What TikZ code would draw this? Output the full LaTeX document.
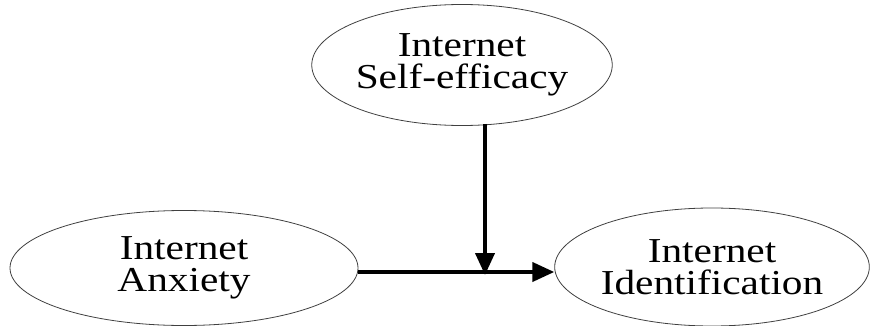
\documentclass[tikz,border=0pt]{standalone}
\usepackage{fontspec}
\setmainfont{Liberation Serif}[FakeStretch=1.18]
\usetikzlibrary{shapes.geometric,arrows.meta}
\begin{document}
\begin{tikzpicture}[x=1pt,y=-1pt,
  oval/.style={ellipse,draw=black!75,line width=0.8pt,inner sep=0pt,align=center,
    font=\fontsize{35}{32}\selectfont},
  conn/.style={line width=4pt,-{Triangle[length=22pt,width=19pt]}}]
\useasboundingbox (0,0) rectangle (872,326);
\node[oval,minimum width=270pt,minimum height=121pt] (S) at (462,65) {Internet\\Self-efficacy};
\node[oval,minimum width=348pt,minimum height=115pt] (A) at (184,268) {Internet\\Anxiety};
\node[oval,minimum width=314pt,minimum height=118pt] (I) at (712,267) {Internet\\Identification};
\coordinate (m) at (485,272);
\draw[conn] (A.east |- m) -- (I.west |- m);
\draw[conn] (S.south -| m) ++(0,-2) -- ([yshift=-3pt]m);
\end{tikzpicture}
\end{document}
